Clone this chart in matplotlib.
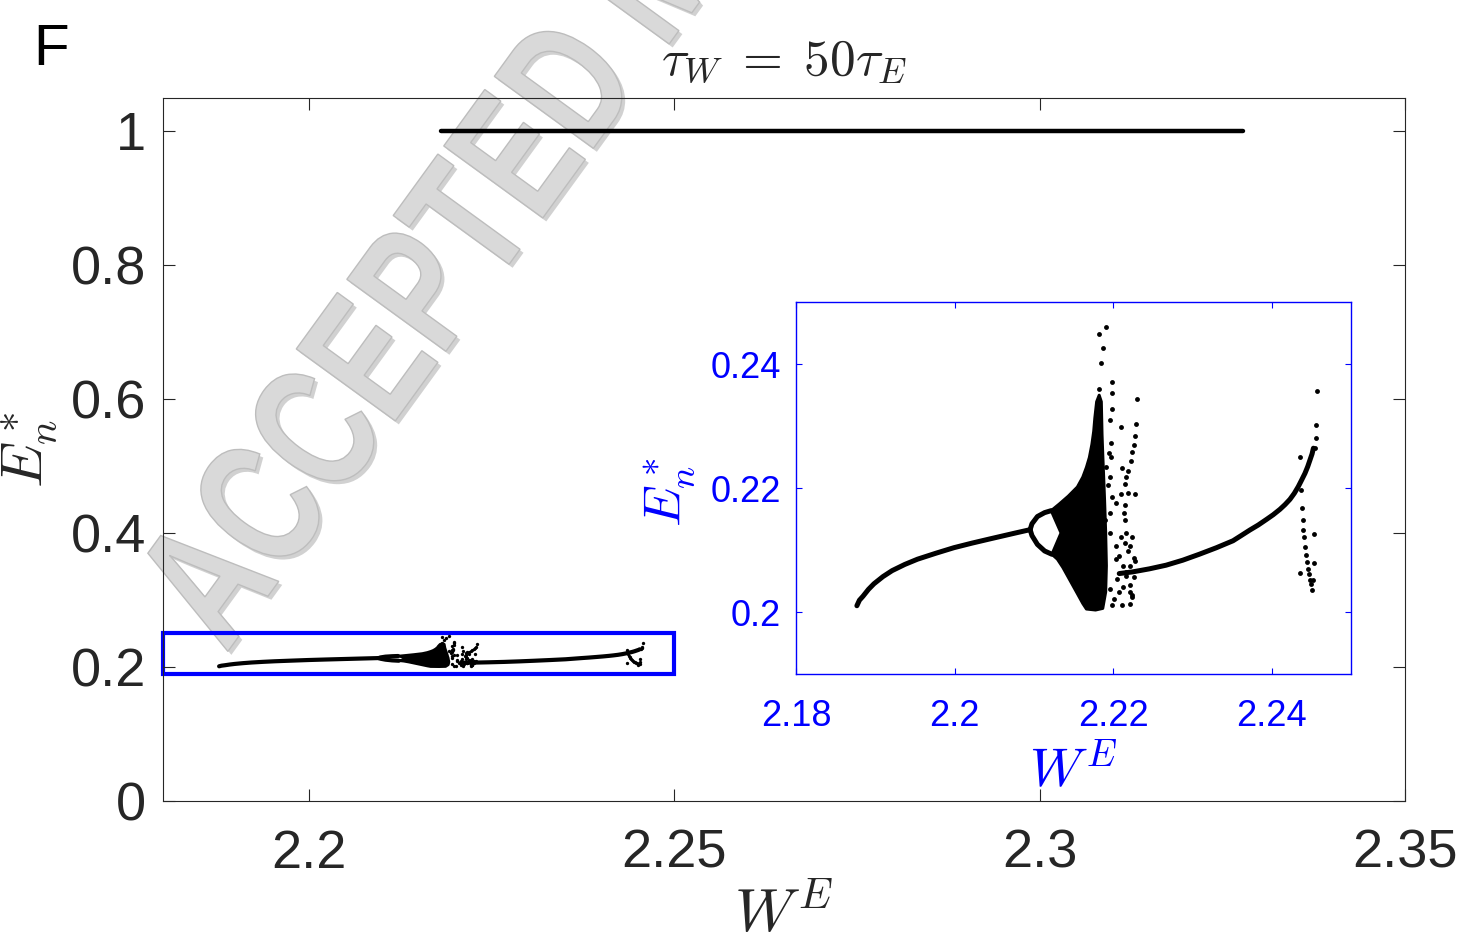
import matplotlib
matplotlib.use("Agg")
import matplotlib.pyplot as plt
import matplotlib.patheffects as pe
from matplotlib.patches import Rectangle, Polygon, PathPatch
from matplotlib.textpath import TextPath
from matplotlib.font_manager import FontProperties
from matplotlib.transforms import Affine2D, IdentityTransform

plt.rcParams['mathtext.fontset'] = 'cm'
plt.rcParams['font.family'] = ['Liberation Sans', 'DejaVu Sans']

# --- data --------------------------------------------------------------
# period-1 branch, left of the period doubling
p1_w = [2.18768, 2.18800, 2.18845, 2.18914, 2.18983, 2.19097, 2.19212, 2.19372,
        2.19533, 2.19762, 2.19991, 2.20220, 2.20449, 2.20770, 2.20953]
p1_e = [0.20101, 0.20190, 0.20254, 0.20365, 0.20455, 0.20571, 0.20667, 0.20767,
        0.20852, 0.20947, 0.21037, 0.21111, 0.21180, 0.21275, 0.21328]

# period-2 loop
p2u_w = [2.20953, 2.20976, 2.21045, 2.21136, 2.21219]
p2u_e = [0.21328, 0.21423, 0.21540, 0.21603, 0.21635]
p2l_w = [2.20953, 2.20976, 2.21045, 2.21136, 2.21228]
p2l_e = [0.21328, 0.21233, 0.21090, 0.20984, 0.20931]

# outline of the dense chaotic band
band_w = [2.21219, 2.21320, 2.21434, 2.21549, 2.21617, 2.21663, 2.21700, 2.21732,
          2.21755, 2.21769, 2.21792, 2.21824, 2.21851, 2.21860, 2.21869, 2.21879,
          2.21892, 2.21906, 2.21915, 2.21906, 2.21869, 2.21778, 2.21663, 2.21617,
          2.21549, 2.21457, 2.21365, 2.21297, 2.21228, 2.21343]
band_e = [0.21635, 0.21741, 0.21868, 0.22016, 0.22175, 0.22333, 0.22492, 0.22704,
          0.22915, 0.23127, 0.23392, 0.23497, 0.23392, 0.22862, 0.22545, 0.22228,
          0.21804, 0.21275, 0.20746, 0.20323, 0.20058, 0.20032, 0.20048, 0.20138,
          0.20296, 0.20508, 0.20720, 0.20852, 0.20931, 0.21275]

# scattered iterates around the chaotic window
sc_w = [2.21915, 2.21824, 2.21869, 2.21847, 2.21984, 2.21824, 2.21984, 2.21984,
        2.21961, 2.22099, 2.21970, 2.21952, 2.21975, 2.21915, 2.21961, 2.21938,
        2.21984, 2.22296, 2.22286, 2.22273, 2.22259, 2.22236, 2.22222, 2.22190,
        2.22112, 2.22144, 2.22099, 2.22190, 2.22273, 2.22030, 2.22144, 2.21961,
        2.22135, 2.22144, 2.21892, 2.21961, 2.22167, 2.22099, 2.22236, 2.22144,
        2.22030, 2.22213, 2.22190, 2.22076, 2.22259, 2.22030, 2.22282, 2.22121,
        2.22213, 2.22167, 2.22167, 2.22259, 2.22053, 2.22213, 2.22121, 2.21961,
        2.22076, 2.22213, 2.22236, 2.22007, 2.22112, 2.21984, 2.22213, 2.22167,
        2.22236]
sc_e = [0.24598, 0.24476, 0.24265, 0.24016, 0.23709, 0.23603, 0.23540, 0.23275,
        0.23101, 0.22984, 0.22720, 0.22571, 0.22492, 0.22333, 0.22175, 0.22042,
        0.21857, 0.23439, 0.23037, 0.22836, 0.22688, 0.22587, 0.22439, 0.22280,
        0.22317, 0.22069, 0.21910, 0.21921, 0.21899, 0.21751, 0.21725, 0.21593,
        0.21593, 0.21487, 0.21487, 0.21275, 0.21275, 0.21212, 0.21212, 0.21116,
        0.21063, 0.21063, 0.20984, 0.20905, 0.20878, 0.20852, 0.20825, 0.20746,
        0.20746, 0.20640, 0.20587, 0.20561, 0.20534, 0.20429, 0.20402, 0.20376,
        0.20323, 0.20323, 0.20243, 0.20217, 0.20111, 0.20111, 0.20122, 0.22175,
        0.20270]

# period-1 branch right of the chaotic window
r_w = [2.22077, 2.22246, 2.22457, 2.22668, 2.22879, 2.23090, 2.23301, 2.23512,
       2.23618, 2.23723, 2.23829, 2.23935, 2.24019, 2.24103, 2.24167, 2.24230,
       2.24285, 2.24335, 2.24378, 2.24420, 2.24454, 2.24483, 2.24509, 2.24526]
r_e = [0.20620, 0.20647, 0.20696, 0.20755, 0.20836, 0.20933, 0.21036, 0.21149,
       0.21235, 0.21321, 0.21402, 0.21494, 0.21569, 0.21655, 0.21731, 0.21817,
       0.21914, 0.22022, 0.22130, 0.22238, 0.22345, 0.22453, 0.22550, 0.22642]

# dots near the right end
rd_w = [2.24547, 2.24559, 2.24559, 2.24568, 2.24357, 2.24369, 2.24378, 2.24390,
        2.24399, 2.24407, 2.24420, 2.24433, 2.24441, 2.24462, 2.24475, 2.24483,
        2.24496, 2.24504, 2.24534, 2.24534, 2.24357, 2.24526]
rd_e = [0.22642, 0.22804, 0.23019, 0.23558, 0.22507, 0.21968, 0.21672, 0.21483,
        0.21321, 0.21213, 0.21052, 0.20917, 0.20809, 0.20701, 0.20620, 0.20523,
        0.20448, 0.20362, 0.21257, 0.20793, 0.20631, 0.20513]

# high-activity branch
hi_w = [2.2181, 2.3278]
hi_e = [1.0, 1.0]

main_xticks = [2.2, 2.25, 2.3, 2.35]
main_yticks = [0, 0.2, 0.4, 0.6, 0.8, 1]
ins_xticks = [2.18, 2.2, 2.22, 2.24]
ins_yticks = [0.2, 0.22, 0.24]

grey = '#262626'


def draw_diagram(ax, lw, ms):
    ax.add_patch(Polygon(list(zip(band_w, band_e)), closed=True, fc='k', ec='k',
                         lw=lw * 0.6, joinstyle='round'))
    for w, e in [(p1_w, p1_e), (p2u_w, p2u_e), (p2l_w, p2l_e), (r_w, r_e)]:
        ax.plot(w, e, color='k', lw=lw, solid_capstyle='round', solid_joinstyle='round')
    ax.plot(sc_w, sc_e, 'o', color='k', ms=ms, mew=0)
    ax.plot(rd_w, rd_e, 'o', color='k', ms=ms, mew=0)


fig = plt.figure(figsize=(14.65, 9.42), dpi=100)

# watermark
tp = TextPath((0, 0), "ACCEPTED MANUSCRIPT", size=1,
              prop=FontProperties(family='Liberation Sans', weight='bold'))
tr = Affine2D().scale(129, 178).rotate_deg(54).translate(226, 942 - 654)
wm = PathPatch(tr.transform_path(tp), transform=IdentityTransform(),
               fc='#d9d9d9', ec='#bdbdbd', lw=1.0, zorder=-1)
wm.set_path_effects([pe.SimplePatchShadow(offset=(2.5, -2.5), shadow_rgbFace='#9a9a9a', alpha=0.45),
                     pe.Normal()])
fig.add_artist(wm)

# main axes
ax = fig.add_axes([0.11126, 0.14968, 0.84778, 0.74628])
ax.set_facecolor('none')
draw_diagram(ax, 3.0, 2.4)
ax.plot(hi_w, hi_e, color='k', lw=3.2, solid_capstyle='round')
ax.add_patch(Rectangle((2.18, 0.19), 0.07, 0.06, fill=False, ec='#0000ff', lw=3, clip_on=False))
ax.set_xlim(2.18, 2.35)
ax.set_ylim(0, 1.049)
ax.set_xticks(main_xticks)
ax.set_xticklabels(['2.2', '2.25', '2.3', '2.35'])
ax.set_yticks(main_yticks)
ax.set_yticklabels(['0', '0.2', '0.4', '0.6', '0.8', '1'])
ax.tick_params(direction='in', length=8.5, width=0.8, top=True, right=True,
               labelsize=39, colors=grey)
ax.tick_params(axis='x', pad=20)
ax.tick_params(axis='y', pad=12)
for s in ax.spines.values():
    s.set_color(grey)
    s.set_linewidth(0.8)
ax.set_xlabel(r'$W^E$', fontsize=44, color=grey)
ax.xaxis.set_label_coords(0.5, -0.12)
ax.set_ylabel(r'$E_n^*$', fontsize=42, color=grey)
ax.yaxis.set_label_coords(-0.083, 0.5)
ax.set_title(r'$\tau_W\;=\;50\tau_E$', fontsize=37, color=grey, y=1.034, pad=0, va='baseline')

fig.text(0.023, 1 - 65 / 942, 'F', fontsize=42, color='k',
         family=['Liberation Sans Narrow', 'Liberation Sans'])

# inset
blue = '#0000ff'
ins = fig.add_axes([0.54334, 0.28450, 0.37884, 0.39490])
ins.set_facecolor('white')
draw_diagram(ins, 3.6, 3.5)
ins.set_xlim(2.18, 2.25)
ins.set_ylim(0.19, 0.25)
ins.set_xticks(ins_xticks)
ins.set_xticklabels(['2.18', '2.2', '2.22', '2.24'])
ins.set_yticks(ins_yticks)
ins.set_yticklabels(['0.2', '0.22', '0.24'])
ins.tick_params(direction='in', length=4, width=0.8, top=True, right=True,
                labelsize=26, colors=blue)
ins.tick_params(axis='x', pad=18)
ins.tick_params(axis='y', pad=11)
for s in ins.spines.values():
    s.set_color(blue)
    s.set_linewidth(1.0)
ins.set_xlabel(r'$W^E$', fontsize=39, color=blue)
ins.xaxis.set_label_coords(0.5, -0.19)
ins.set_ylabel(r'$E_n^*$', fontsize=38, color=blue)
ins.yaxis.set_label_coords(-0.178, 0.49)

fig.savefig('out.png', dpi=100)
